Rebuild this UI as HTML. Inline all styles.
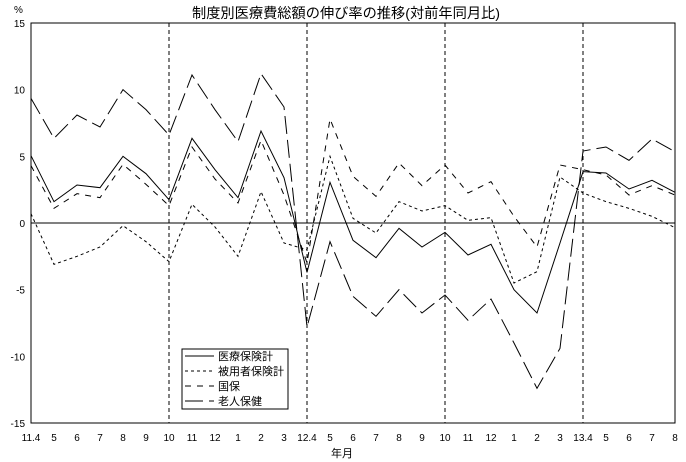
<!DOCTYPE html>
<html><head><meta charset="utf-8">
<style>
html,body{margin:0;padding:0;background:#fff;}
svg{display:block;font-family:"Liberation Sans","Noto Sans CJK JP",sans-serif;}
</style></head>
<body>
<svg id="chart" width="686" height="462" viewBox="0 0 686 462">
<text x="346" y="18" font-size="14" text-anchor="middle" textLength="308" lengthAdjust="spacingAndGlyphs">制度別医療費総額の伸び率の推移(対前年同月比)</text>
<text x="14" y="13" font-size="10">%</text>
<text x="342" y="457" font-size="11" text-anchor="middle">年月</text>
<g id="grid"></g>
<g id="series"></g>
<rect x="31" y="23" width="644" height="400" fill="none" stroke="#000" stroke-width="1"/>
<g id="legend">
<rect x="182" y="349" width="106" height="60" fill="#fff" stroke="#000"/>
<line x1="185" y1="356" x2="214" y2="356" stroke="#000"/>
<text x="218" y="360" font-size="11">医療保険計</text>
<line x1="185" y1="371" x2="214" y2="371" stroke="#000" stroke-dasharray="3,3"/>
<text x="218" y="375" font-size="11">被用者保険計</text>
<line x1="185" y1="386" x2="214" y2="386" stroke="#000" stroke-dasharray="6,6"/>
<text x="218" y="390" font-size="11">国保</text>
<line x1="185" y1="401" x2="214" y2="401" stroke="#000" stroke-dasharray="18,6"/>
<text x="218" y="405" font-size="11">老人保健</text>
</g>
</svg>
<script>
const categories = ["11.4","5","6","7","8","9","10","11","12","1","2","3","12.4","5","6","7","8","9","10","11","12","1","2","3","13.4","5","6","7","8"];
const totalValues = [5.05,1.6,2.85,2.65,5.0,3.7,1.75,6.35,4.0,1.9,6.9,3.4,-3.7,3.05,-1.3,-2.6,-0.4,-1.8,-0.7,-2.4,-1.6,-5.0,-6.75,-1.5,3.85,3.75,2.55,3.2,2.3];
const employeeValues = [0.7,-3.1,-2.5,-1.8,-0.2,-1.4,-2.9,1.4,-0.3,-2.5,2.35,-1.5,-2.0,5.0,0.35,-0.75,1.6,0.9,1.3,0.2,0.4,-4.5,-3.65,3.45,2.25,1.6,1.1,0.5,-0.35];
const nationalValues = [4.3,1.1,2.2,1.9,4.4,2.9,1.3,5.7,3.3,1.5,6.2,2.1,-3.0,7.8,3.5,2.0,4.5,2.8,4.35,2.25,3.1,0.5,-1.8,4.35,4.0,3.6,2.1,2.8,2.1];
const elderlyValues = [9.35,6.35,8.1,7.2,10.0,8.5,6.6,11.1,8.5,6.1,11.2,8.7,-7.8,-1.4,-5.5,-7.0,-5.0,-6.75,-5.4,-7.3,-5.7,-9.0,-12.4,-9.4,5.4,5.7,4.7,6.3,5.35];
const yTicks = [15,10,5,0,-5,-10,-15];
const yearBreaks = [6,12,18,24];

const NS = "http://www.w3.org/2000/svg";
const x0 = 31, x1 = 675, yTop = 23, yBot = 423, yMin = -15, yMax = 15;
function xScale(i){ return x0 + i * (x1 - x0) / (categories.length - 1); }
function yScale(v){ return yTop + (yMax - v) * (yBot - yTop) / (yMax - yMin); }
const grid = document.getElementById("grid");
const series = document.getElementById("series");

yTicks.forEach(t => {
  const tx = document.createElementNS(NS, "text");
  tx.setAttribute("x", 25); tx.setAttribute("y", yScale(t) + 4);
  tx.setAttribute("font-size", "10"); tx.setAttribute("text-anchor", "end");
  tx.textContent = t;
  
  
  grid.appendChild(tx);
});
const zl = document.createElementNS(NS, "line");
zl.setAttribute("x1", x0); zl.setAttribute("x2", x1);
zl.setAttribute("y1", yScale(0)); zl.setAttribute("y2", yScale(0));
zl.setAttribute("stroke", "#000");


grid.appendChild(zl);

categories.forEach((c, i) => {
  const tx = document.createElementNS(NS, "text");
  tx.setAttribute("x", xScale(i)); tx.setAttribute("y", 441);
  tx.setAttribute("font-size", "10"); tx.setAttribute("text-anchor", "middle");
  tx.textContent = c;
  
  
  grid.appendChild(tx);
});
yearBreaks.forEach(i => {
  const l = document.createElementNS(NS, "line");
  l.setAttribute("x1", xScale(i)); l.setAttribute("x2", xScale(i));
  l.setAttribute("y1", yTop); l.setAttribute("y2", yBot);
  l.setAttribute("stroke", "#000"); l.setAttribute("stroke-dasharray", "4,3");
  
  
  grid.appendChild(l);
});

function drawSeries(vals, dash, name){
  const p = document.createElementNS(NS, "polyline");
  p.setAttribute("points", vals.map((v, i) => xScale(i) + "," + yScale(v)).join(" "));
  p.setAttribute("fill", "none"); p.setAttribute("stroke", "#000"); p.setAttribute("stroke-width", "1");
  if (dash) p.setAttribute("stroke-dasharray", dash);
  
  
  series.appendChild(p);
}
drawSeries(totalValues, null, "series-total-line");
drawSeries(employeeValues, "3,3", "series-employee-line");
drawSeries(nationalValues, "6,6", "series-national-line");
drawSeries(elderlyValues, "18,6", "series-elderly-line");
</script>
</body></html>
